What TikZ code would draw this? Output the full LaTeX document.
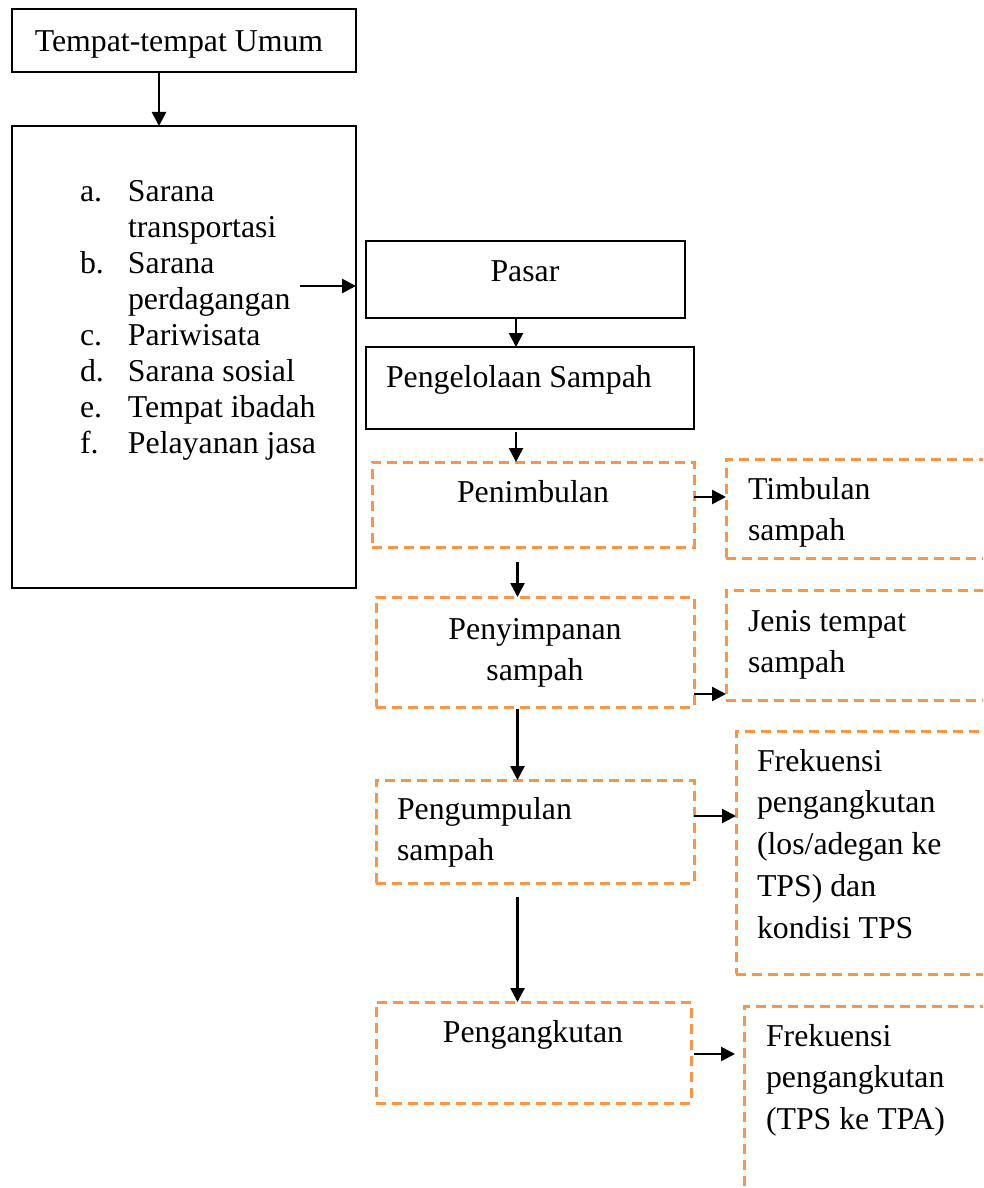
\documentclass[tikz,border=0pt]{standalone}
\usepackage{fontspec}
\setmainfont{Liberation Serif}
\usetikzlibrary{arrows.meta}
\definecolor{accorange}{HTML}{F79646}
\begin{document}
\begin{tikzpicture}[x=1pt,y=-1pt,
  solidbox/.style={draw=black, line width=2.4pt, inner sep=0pt, outer sep=0pt, anchor=north west},
  dashbox/.style={draw=accorange, line width=3pt, dash pattern=on 10pt off 6pt, inner sep=0pt, outer sep=0pt, anchor=north west},
  txt/.style={inner sep=0pt, outer sep=0pt, font=\fontsize{31.8}{36}\selectfont},
  rtxt/.style={inner sep=0pt, outer sep=0pt, font=\fontsize{31.8}{41.8}\selectfont, anchor=base west},
  arr/.style={draw=black, line width=2.6pt, -{Triangle[length=14pt,width=14pt]}}]
\clip (0,0) rectangle (983,1188);
\fill[white] (0,0) rectangle (983,1188);
% boxes
\node[solidbox, minimum width=344pt, minimum height=63pt] (top) at (12,9) {};
\node[solidbox, minimum width=344pt, minimum height=462pt] (list) at (12,126) {};
\node[solidbox, minimum width=319pt, minimum height=77pt] (pasar) at (366,241) {};
\node[solidbox, minimum width=328pt, minimum height=82pt] (ps) at (366,347) {};
\node[dashbox, minimum width=322pt, minimum height=85pt] (pen) at (372,462) {};
\node[dashbox, minimum width=274pt, minimum height=99pt] (tim) at (726,459) {};
\node[dashbox, minimum width=318pt, minimum height=110pt] (pny) at (376,597) {};
\node[dashbox, minimum width=274pt, minimum height=110pt] (jen) at (726,590) {};
\node[dashbox, minimum width=318pt, minimum height=103pt] (pgm) at (376,780) {};
\node[dashbox, minimum width=264pt, minimum height=243pt] (fr1) at (736,731) {};
\node[dashbox, minimum width=315pt, minimum height=101pt] (pga) at (376,1002) {};
\node[dashbox, minimum width=256pt, minimum height=230pt] (fr2) at (744,1006) {};
% texts
\node[txt, anchor=base] (ttop) at (179,52) {Tempat-tempat Umum};
\node[txt, anchor=base west] (tlist) at (80,201) {\begin{tabular}[t]{@{}p{48pt}@{}l@{}}
a. & Sarana\\
   & transportasi\\
b. & Sarana\\
   & perdagangan\\
c. & Pariwisata\\
d. & Sarana sosial\\
e. & Tempat ibadah\\
f. & Pelayanan jasa
\end{tabular}};
\node[txt, anchor=base] (tpasar) at (525,281) {Pasar};
\node[txt, anchor=base west] (tps) at (386,387) {Pengelolaan Sampah};
\node[txt, anchor=base] (tpen) at (533,502) {Penimbulan};
\node[rtxt] (ttim) at (748,499) {\begin{tabular}[t]{@{}l@{}}Timbulan\\ sampah\end{tabular}};
\node[txt, anchor=base, font=\fontsize{31.8}{41.8}\selectfont] (tpny) at (535,639) {\begin{tabular}[t]{@{}c@{}}Penyimpanan\\ sampah\end{tabular}};
\node[rtxt] (tjen) at (748,631) {\begin{tabular}[t]{@{}l@{}}Jenis tempat\\ sampah\end{tabular}};
\node[rtxt] (tpgm) at (397,819) {\begin{tabular}[t]{@{}l@{}}Pengumpulan\\ sampah\end{tabular}};
\node[rtxt] (tfr1) at (757,771) {\begin{tabular}[t]{@{}l@{}}Frekuensi\\ pengangkutan\\ (los/adegan ke\\ TPS) dan\\ kondisi TPS\end{tabular}};
\node[txt, anchor=base] (tpga) at (533,1042) {Pengangkutan};
\node[rtxt] (tfr2) at (766,1046) {\begin{tabular}[t]{@{}l@{}}Frekuensi\\ pengangkutan\\ (TPS ke TPA)\end{tabular}};
% helper coordinates
\coordinate (c1) at (159,0);
\coordinate (c2) at (516,0);
\coordinate (c3) at (517.5,0);
\coordinate (lstart) at (300,286);
\coordinate (h1) at (0,497);
\coordinate (h2) at (0,694);
\coordinate (h3) at (0,816);
\coordinate (h4) at (0,1054);
% connectors
\draw[arr] (top.south -| c1) -- (list.north -| c1);
\draw[arr] (lstart) -- (list.east |- lstart);
\draw[arr] (pasar.south -| c2) -- (ps.north -| c2);
\draw[arr, shorten <=3pt] (ps.south -| c2) -- (pen.north -| c2);
\draw[arr, shorten <=15pt] (pen.south -| c3) -- (pny.north -| c3);
\draw[arr, shorten <=2pt] (pny.south -| c3) -- (pgm.north -| c3);
\draw[arr, shorten <=14pt] (pgm.south -| c3) -- (pga.north -| c3);
\draw[arr] (pen.east |- h1) -- (tim.west |- h1);
\draw[arr] (pny.east |- h2) -- (jen.west |- h2);
\draw[arr] (pgm.east |- h3) -- (fr1.west |- h3);
\draw[arr, shorten <=3pt, shorten >=9pt] (pga.east |- h4) -- (fr2.west |- h4);
\end{tikzpicture}
\end{document}
